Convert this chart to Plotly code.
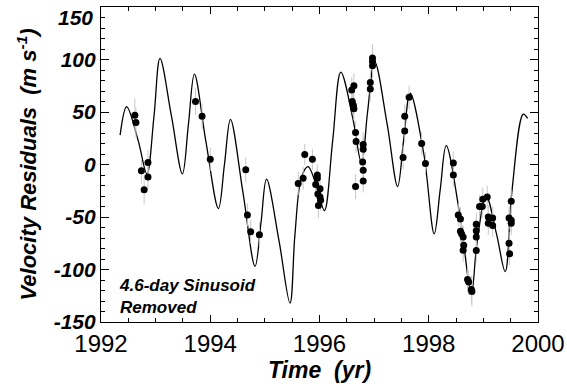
import plotly.graph_objects as go

# Model curve (Keplerian fit): time (yr), residual velocity (m/s)
curve_t = [1992.35, 1992.47, 1992.68, 1992.84, 1992.97, 1993.08, 1993.29, 1993.49, 1993.60, 1993.71,
           1993.92, 1994.15, 1994.26, 1994.37, 1994.60, 1994.82, 1994.93, 1995.03, 1995.26, 1995.46,
           1995.55, 1995.67, 1995.79, 1995.96, 1996.09, 1996.24, 1996.39, 1996.61, 1996.77, 1996.88,
           1997.01, 1997.24, 1997.43, 1997.54, 1997.66, 1997.91, 1998.10, 1998.21, 1998.32,
           1998.58, 1998.78, 1998.88, 1999.05, 1999.24, 1999.40, 1999.52, 1999.73, 1999.81]
curve_v = [28, 55, 23, -9, 46, 101, 46, -9, 38, 86,
           22, -42, 0, 43, -27, -97, -55, -14, -73, -132,
           -67, -12, -2, -23, -44, 22, 88, 44, 1, 50,
           98, 38, -21, 23, 68, 10, -66, -24, 18,
           -52, -123, -76, -30, -66, -102, -27, 48, 44]

# Observations
obs_t = [1992.62, 1992.64, 1992.74, 1992.79, 1992.86, 1992.86, 1993.73, 1993.85, 1994.00,
         1994.65, 1994.68, 1994.74, 1994.90, 1995.61, 1995.70, 1995.73, 1995.87,
         1995.96, 1995.96, 1995.93, 1996.01, 1995.97, 1996.01, 1996.02, 1995.98,
         1996.59, 1996.63, 1996.60, 1996.62, 1996.63, 1996.66, 1996.67, 1996.66,
         1996.80, 1996.80, 1996.79, 1996.80, 1996.80,
         1996.93, 1996.93, 1996.97, 1996.97, 1996.97,
         1997.53, 1997.56, 1997.56, 1997.64, 1997.87, 1997.94,
         1998.45, 1998.45,
         1998.54, 1998.58, 1998.58, 1998.60, 1998.63, 1998.64, 1998.63,
         1998.71, 1998.73, 1998.78, 1998.79,
         1998.87, 1998.87, 1998.87, 1998.87,
         1998.93, 1998.98, 1998.99, 1999.07,
         1999.09, 1999.09, 1999.17, 1999.17,
         1999.47, 1999.51, 1999.51, 1999.47, 1999.48, 1999.51]
obs_v = [47, 40, -6, -24, -12, 2, 60, 46, 5,
         -5, -48, -64, -67, -18, -13, 9.5, 5,
         -10, -13, -19, -23, -28, -31, -34, -39,
         71, 75, 60, 56.5, 53, 30.5, 22, -21,
         19, 14.5, 2.5, -5.4, -15.6,
         78, 72, 101.5, 98, 94,
         6.7, 32, 46, 64, 20, 1,
         1.5, -10,
         -48, -52, -63.5, -66, -69, -77, -81.6,
         -109.5, -112, -119, -121,
         -57, -63, -69, -82,
         -40, -40, -33, -31,
         -50, -56, -51, -58,
         -51, -53, -56, -75, -85, -35]
obs_e = [16, 14, 12, 14, 12, 12, 13, 12, 11,
         12, 11, 11, 12, 11, 11, 10, 10,
         10, 10, 10, 10, 10, 10, 10, 12,
         12, 12, 11, 11, 11, 11, 11, 12,
         12, 12, 11, 11, 11,
         12, 12, 13, 12, 12,
         11, 11, 11, 11, 11, 11,
         11, 11,
         11, 11, 11, 11, 11, 11, 11,
         12, 12, 13, 14,
         11, 11, 11, 11,
         11, 11, 11, 11,
         11, 11, 11, 11,
         11, 11, 11, 11, 11, 11]

x_ticks = [1992, 1994, 1996, 1998, 2000]
y_ticks = [-150, -100, -50, 0, 50, 100, 150]
x_range = [1992, 2000]
y_range = [-150, 150]

NARROW = "Liberation Sans Narrow, Liberation Sans, Arial, sans-serif"
SANS = "Liberation Sans, Arial, sans-serif"
YTICK_FONT = dict(family=NARROW, size=21, color="black", weight="bold", style="italic")

fig = go.Figure()
fig.add_trace(go.Scatter(
    x=curve_t, y=curve_v, mode="lines",
    line=dict(color="black", width=1.3, shape="spline", smoothing=1.0),
    hoverinfo="skip", showlegend=False))
fig.add_trace(go.Scatter(
    x=obs_t, y=obs_v, mode="markers",
    marker=dict(color="black", size=7),
    error_y=dict(type="data", array=obs_e, color="#c8c8c8", thickness=1, width=0),
    showlegend=False))
# invisible trace so the top/right tick axes are drawn
fig.add_trace(go.Scatter(x=x_range, y=y_range, xaxis="x2", yaxis="y2", mode="markers",
                         marker=dict(opacity=0), hoverinfo="skip", showlegend=False))

fig.add_annotation(
    x=1992.3, y=-147, xref="x", yref="y", xanchor="left", yanchor="bottom",
    text="4.6-day Sinusoid<br>Removed", showarrow=False, align="left",
    font=dict(family=NARROW, size=17, color="black", weight="bold", style="italic"))

# the top tick label sits just inside the figure edge, as in the original
y_top = y_ticks[-1]
fig.add_annotation(
    x=0, xref="paper", y=y_top, yref="y", xanchor="right", yanchor="top",
    xshift=-6, yshift=3, text=str(y_top), showarrow=False, font=YTICK_FONT)

tick_common = dict(ticks="inside", tickwidth=1, tickcolor="black", showgrid=False, zeroline=False,
                   showline=True, linecolor="black", linewidth=1.2, automargin=False)

fig.update_layout(
    width=567, height=390,
    margin=dict(l=101, r=29, t=7, b=68, autoexpand=False),
    paper_bgcolor="white", plot_bgcolor="white",
    xaxis=dict(
        range=x_range, tickvals=x_ticks, ticktext=[str(v) for v in x_ticks], ticklen=7,
        minor=dict(dtick=0.5, tick0=1992, ticks="inside", ticklen=4, tickwidth=1, tickcolor="black"),
        ticklabeloverflow="allow",
        tickfont=dict(family=SANS, size=24, color="black"),
        title=dict(text="Time  (yr)", standoff=4,
                   font=dict(family=NARROW, size=23, color="black", weight="bold", style="italic")),
        **tick_common),
    yaxis=dict(
        range=y_range, tickvals=y_ticks[:-1], ticktext=[str(v) for v in y_ticks[:-1]], ticklen=8,
        minor=dict(dtick=10, tick0=0, ticks="inside", ticklen=4, tickwidth=1, tickcolor="black"),
        ticklabeloverflow="allow",
        tickfont=YTICK_FONT,
        title=dict(text="Velocity Residuals  (m s<sup>-1</sup>)", standoff=10,
                   font=dict(family=NARROW, size=22, color="black", weight="bold", style="italic")),
        **tick_common),
    xaxis2=dict(
        overlaying="x", side="top", anchor="y", range=x_range, tickvals=x_ticks, ticklen=7,
        showticklabels=False,
        minor=dict(dtick=0.5, tick0=1992, ticks="inside", ticklen=4, tickwidth=1, tickcolor="black"),
        **tick_common),
    yaxis2=dict(
        overlaying="y", side="right", anchor="x", range=y_range, tickvals=y_ticks, ticklen=8,
        showticklabels=False,
        minor=dict(dtick=10, tick0=0, ticks="inside", ticklen=4, tickwidth=1, tickcolor="black"),
        **tick_common),
)

fig.write_html("out.html")
